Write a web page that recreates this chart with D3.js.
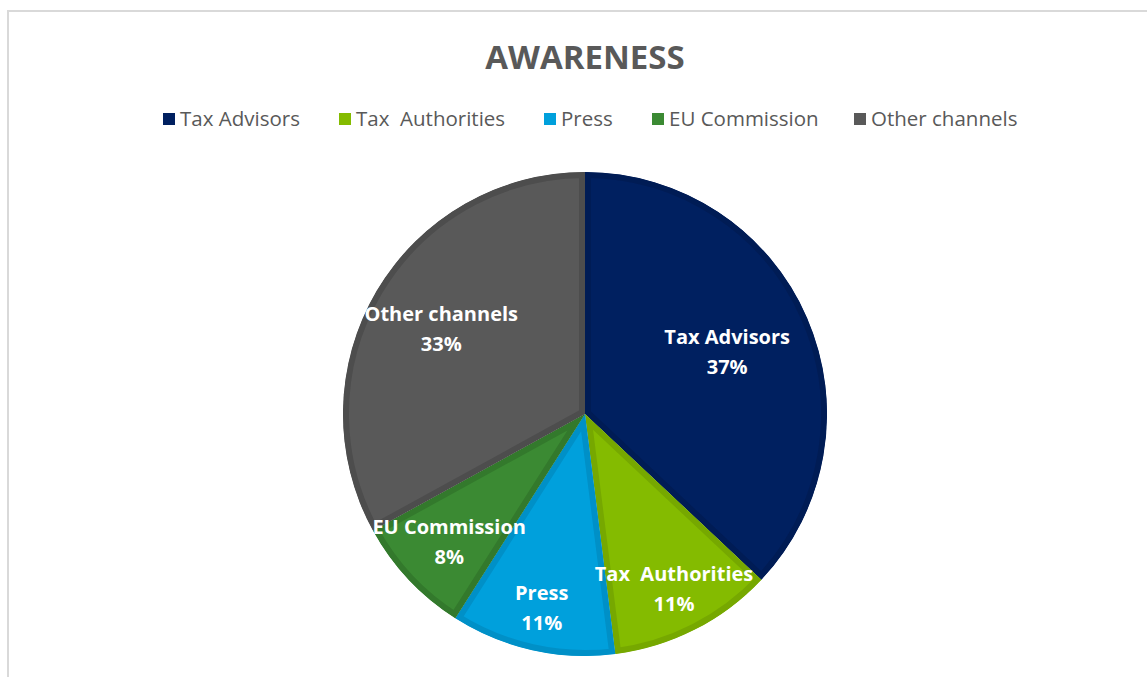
<!DOCTYPE html>
<html>
<head>
<meta charset="utf-8">
<script src="https://cdn.jsdelivr.net/npm/d3@7"></script>
<style>
  body { margin: 0; background: #fff; }
  text { font-family: "Open Sans", "Noto Sans", sans-serif; }
</style>
</head>
<body>
<div id="chart"></div>
<script>
// data
var categories = ["Tax Advisors", "Tax  Authorities", "Press", "EU Commission", "Other channels"];
var shares = [37, 11, 11, 8, 33];
var labelText = ["37%", "11%", "11%", "8%", "33%"];

var colors = ["#002060", "#84bb00", "#00a0dc", "#3b8a33", "#595959"];
var edgeColors = ["#001c55", "#76a800", "#0090c7", "#33792c", "#4d4d4d"];
// how far out each data label sits, as a share of the radius
var labelRadius = [0.64, 0.81, 0.82, 0.77, 0.69];

var width = 1147, height = 677;
var cx = 585, cy = 414, radius = 242;

var svg = d3.select("#chart").append("svg")
    .attr("width", width)
    .attr("height", height);

// frame (only top and left edges are visible in the crop)
svg.append("rect")
    .attr("x", 8).attr("y", 11)
    .attr("width", width + 20).attr("height", height + 20)
    .attr("fill", "#fff")
    .attr("stroke", "#d9d9d9")
    .attr("stroke-width", 2);

// title
svg.append("text")
    .attr("x", cx).attr("y", 69)
    .attr("text-anchor", "middle")
    .style("font-size", "33px")
    .style("font-weight", "bold")
    .style("fill", "#595959")
    .text("AWARENESS");

// legend
var legendX = [163, 339, 544, 652, 854];
var legend = svg.append("g").selectAll("g")
    .data(categories)
    .enter().append("g")
    .attr("transform", function(d, i) { return "translate(" + legendX[i] + ",113)"; });

legend.append("rect")
    .attr("width", 12).attr("height", 12)
    .attr("fill", function(d, i) { return colors[i]; });

legend.append("text")
    .attr("x", 17).attr("y", 13)
    .style("font-size", "20.5px")
    .style("fill", "#595959")
    .style("white-space", "pre")
    .attr("xml:space", "preserve")
    .text(function(d) { return d; });

// pie
var pie = d3.pie().sort(null).value(function(d) { return d; });
var arcs = pie(shares);

var arc = d3.arc().innerRadius(0).outerRadius(radius);

var g = svg.append("g")
    .attr("transform", "translate(" + cx + "," + cy + ")");

var defs = svg.append("defs");
arcs.forEach(function(a, i) {
  defs.append("clipPath").attr("id", "clip" + i)
    .append("path").attr("d", arc(a));
});

g.selectAll("path.slice")
    .data(arcs)
    .enter().append("path")
    .attr("class", "slice")
    .attr("d", arc)
    .attr("clip-path", function(d, i) { return "url(#clip" + i + ")"; })
    .attr("fill", function(d, i) { return colors[i]; })
    .attr("stroke", function(d, i) { return edgeColors[i]; })
    .attr("stroke-width", 12)
    .attr("stroke-linejoin", "miter");

var labels = g.selectAll("text.lbl")
    .data(arcs)
    .enter().append("text")
    .attr("class", "lbl")
    .attr("text-anchor", "middle")
    .attr("xml:space", "preserve")
    .style("font-size", "20px")
    .style("font-weight", "bold")
    .style("fill", "#fff")
    .attr("transform", function(d, i) {
      var k = labelRadius[i];
      var c = d3.arc().innerRadius(0).outerRadius(2 * radius * k).centroid(d);
      return "translate(" + c[0] + "," + c[1] + ")";
    });

labels.append("tspan")
    .attr("x", 0).attr("y", -8)
    .text(function(d, i) { return categories[i]; });

labels.append("tspan")
    .attr("x", 0).attr("y", 22)
    .text(function(d, i) { return labelText[i]; });
</script>
</body>
</html>
